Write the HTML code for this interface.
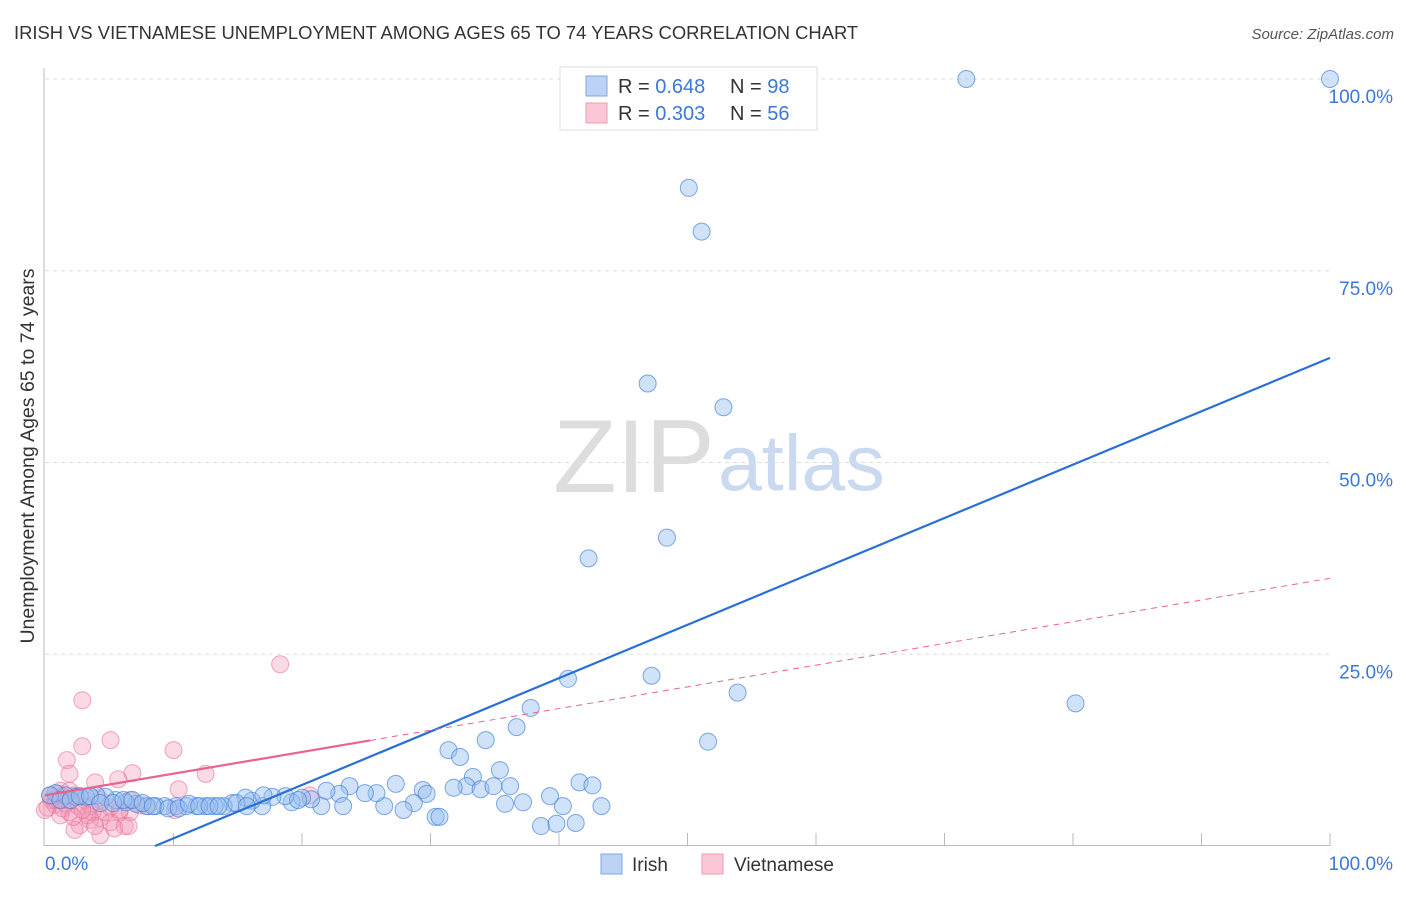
<!DOCTYPE html>
<html><head><meta charset="utf-8"><style>
body{margin:0;background:#fff;font-family:"Liberation Sans",sans-serif;}
svg text{font-family:"Liberation Sans",sans-serif;}
</style></head><body>
<svg width="1406" height="892" xmlns="http://www.w3.org/2000/svg" id="chart">
<text x="14" y="39" font-size="18.4" fill="#333">IRISH VS VIETNAMESE UNEMPLOYMENT AMONG AGES 65 TO 74 YEARS CORRELATION CHART</text>
<text x="1394" y="39" font-size="15" fill="#555" font-style="italic" text-anchor="end">Source: ZipAtlas.com</text>
<text x="553" y="492" font-size="104" fill="#ddd" font-family="Liberation Serif">ZIP</text>
<text x="718" y="490" font-size="79" fill="#c9d9ef">atlas</text>
<g id="grid"></g>
<line x1="44" y1="68" x2="44" y2="846" stroke="#bbb"/>
<line x1="44" y1="845.5" x2="1330" y2="845.5" stroke="#bbb"/>
<text x="34" y="456" font-size="19.5" fill="#333" text-anchor="middle" transform="rotate(-90 34 456)">Unemployment Among Ages 65 to 74 years</text>
<text x="45" y="870" font-size="19" fill="#3b78d8">0.0%</text>
<text x="1393" y="870" font-size="19" fill="#3b78d8" text-anchor="end">100.0%</text>
<g id="pts"></g>
<g id="lines"></g>
<rect x="560" y="67" width="257" height="63" fill="#fff" stroke="#ddd"/>
<rect x="586" y="76" width="21" height="20" fill="#bcd3f5" stroke="#7ea7e6"/>
<rect x="586" y="103" width="21" height="20" fill="#fbc7d6" stroke="#ef9bb4"/>
<text x="618" y="93" font-size="20" fill="#333">R = <tspan fill="#3b78d8">0.648</tspan></text>
<text x="730" y="93" font-size="20" fill="#333">N = <tspan fill="#3b78d8">98</tspan></text>
<text x="618" y="120" font-size="20" fill="#333">R = <tspan fill="#3b78d8">0.303</tspan></text>
<text x="730" y="120" font-size="20" fill="#333">N = <tspan fill="#3b78d8">56</tspan></text>
<rect x="601" y="854" width="21" height="20" fill="#bcd3f5" stroke="#7ea7e6"/>
<text x="632" y="871" font-size="19" fill="#333">Irish</text>
<rect x="702" y="854" width="21" height="20" fill="#fbc7d6" stroke="#ef9bb4"/>
<text x="734" y="871" font-size="19" fill="#333">Vietnamese</text>
</svg>
<script>
const yTicks=[25,50,75,100];
const xTicks=[10,20,30,40,50,60,70,80,90,100];
const irishX=[71.7,100,50.1,51.1,46.9,52.8,48.4,42.3,40.7,47.2,53.9,80.2,51.6,37.8,36.7,34.3,31.4,32.3,33.3,35.4,32.8,31.8,33.9,34.9,36.2,41.6,42.6,43.3,39.3,37.2,35.8,40.3,38.6,39.8,41.3,30.4,30.7,29.4,29.7,27.3,28.7,27.9,26.4,25.8,24.9,23.7,22.9,23.2,21.5,21.9,20.7,20.0,19.2,18.7,17.7,16.9,16.1,15.6,14.6,13.9,13.2,12.5,11.8,11.0,10.2,9.3,8.6,7.9,7.1,6.3,5.5,4.7,4.0,3.2,2.4,1.6,0.8,0.4,1.2,2.0,2.7,3.5,4.3,5.3,6.1,6.8,7.6,8.4,9.6,10.4,11.2,12.0,12.8,13.5,14.9,15.7,17.0,19.7];
const irishY=[100,100,85.8,80.1,60.3,57.2,40.2,37.5,21.8,22.2,20,18.6,13.6,18,15.5,13.8,12.5,11.6,9,9.9,7.8,7.6,7.4,7.8,7.8,8.3,7.9,5.2,6.5,5.7,5.5,5.2,2.6,2.9,3,3.8,3.8,7.3,6.8,8.1,5.6,4.7,5.2,6.9,6.9,7.8,6.8,5.2,5.2,7.2,6.1,6.3,5.7,6.5,6.4,5.2,5.9,6.3,5.6,5.2,5.2,5.2,5.2,5.2,5.2,5.2,5.2,5.2,5.5,5.7,6,6.4,6.6,6.4,6.4,6.6,6.9,6.6,6,6,6.5,6.5,5.6,5.6,6,6,5.6,5.2,4.9,4.9,5.5,5.2,5.2,5.2,5.6,5.2,6.6,6];
const vietX=[18.3,2.9,5.1,2.9,10,1.7,12.5,1.9,6.8,10.4,3.9,5.7,1.2,0.5,0.2,0.8,1.3,1.9,2.3,3.1,3.5,4.3,5.1,5.8,6.6,7.4,1.2,1.9,2.7,3.5,4.3,5.1,6.2,0.4,0.8,1.6,2.6,3.7,4.7,6.6,4.3,5.4,2.3,3.3,5.8,0,1.0,1.8,3.9,10.1,20.6,8.0,6.5,2.9,1.4,2.2];
const vietY=[23.7,19,13.8,13,12.5,11.2,9.4,9.4,9.5,7.4,8.3,8.7,7.2,6,5,5.4,6.5,7.2,6.6,6,5.2,6,5,4.4,6,5.3,4.0,4.4,2.7,3.4,3.7,3.1,2.6,6.6,6,5.5,5.2,4.4,4.4,4.4,1.4,2.3,2.1,4,4.7,4.7,6.8,6,2.6,4.7,6.6,5.2,2.6,4.7,4.9,3.8];
const X=v=>45+v*12.85, Y=v=>846-v*7.67;
const NS="http://www.w3.org/2000/svg";
const g=document.getElementById('grid'), pts=document.getElementById('pts'), ln=document.getElementById('lines');
function mk(tag,a,p){const e=document.createElementNS(NS,tag);for(const k in a)e.setAttribute(k,a[k]);p.appendChild(e);return e;}
yTicks.forEach(t=>{
 const l=mk('line',{x1:45,x2:1330,y1:Y(t),y2:Y(t),stroke:'#ddd','stroke-dasharray':'4,4'},g);
 
 
 const tx=mk('text',{x:1393,y:Y(t)+24,'font-size':19,fill:'#3b78d8','text-anchor':'end'},g);
 tx.textContent=t.toFixed(1)+'%';
 
 
});
xTicks.forEach(t=>{
 const l=mk('line',{x1:X(t),x2:X(t),y1:833,y2:846,stroke:'#bbb'},g);
 
 
});
vietX.forEach((v,i)=>{
 const c=mk('circle',{cx:X(v),cy:Y(vietY[i]),r:8.5,fill:'rgba(244,150,180,0.35)',stroke:'rgba(232,110,150,0.6)','stroke-width':1},pts);
 
 
});
irishX.forEach((v,i)=>{
 const c=mk('circle',{cx:X(v),cy:Y(irishY[i]),r:8.5,fill:'rgba(150,190,240,0.45)',stroke:'rgba(60,125,215,0.65)','stroke-width':1},pts);
 
 
});
const irishTrend=[-5.96,0.696], vietTrend=[6.6,0.283];
const x0=-irishTrend[0]/irishTrend[1];
let l1=mk('line',{x1:X(x0),y1:Y(0),x2:X(100),y2:Y(irishTrend[0]+irishTrend[1]*100),stroke:'#2a6fd6','stroke-width':2.2},ln);


let l2=mk('line',{x1:X(0),y1:Y(vietTrend[0]),x2:X(25.3),y2:Y(vietTrend[0]+vietTrend[1]*25.3),stroke:'#e8648f','stroke-width':2.2},ln);


let l3=mk('line',{x1:X(25.3),y1:Y(vietTrend[0]+vietTrend[1]*25.3),x2:X(100),y2:Y(vietTrend[0]+vietTrend[1]*100),stroke:'#e8648f','stroke-width':1,'stroke-dasharray':'6,5'},ln);


</script>
</body></html>
